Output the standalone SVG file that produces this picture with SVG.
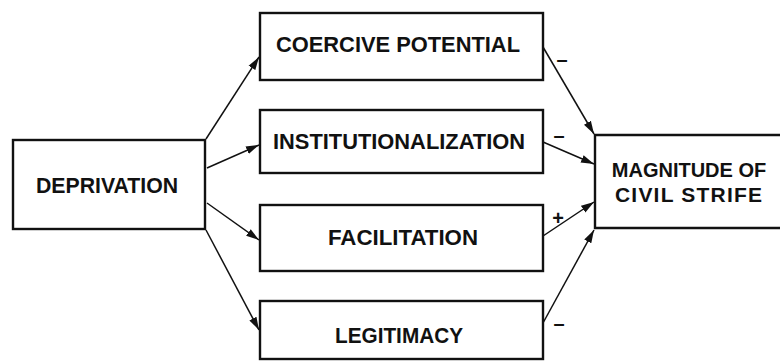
<svg xmlns="http://www.w3.org/2000/svg" width="780" height="361" viewBox="0 0 780 361">
<style>
.box{fill:#fff;stroke:#111;stroke-width:2.4}
.lbl{font-family:"Liberation Sans",Arial,sans-serif;font-weight:bold;font-size:22px;fill:#111;text-anchor:middle}
.sm{font-size:20px}
.edge{stroke:#111;stroke-width:1.5;fill:none;marker-end:url(#ah)}
.sign{font-family:"Liberation Sans",Arial,sans-serif;font-weight:bold;font-size:20px;fill:#111;text-anchor:middle}
</style>
<defs>
<marker id="ah" markerUnits="userSpaceOnUse" markerWidth="14" markerHeight="10" viewBox="0 0 14 10" refX="13" refY="5" orient="auto">
<path d="M0,1 L13,5 L0,9 Z" fill="#111"/>
</marker>
</defs>
<rect width="780" height="361" fill="#fff"/>
<g id="connectors">
<line class="edge" x1="206" y1="139" x2="259" y2="57"/>
<line class="edge" x1="207" y1="168" x2="259" y2="145"/>
<line class="edge" x1="207" y1="203" x2="259" y2="240"/>
<line class="edge" x1="206" y1="230" x2="259" y2="330"/>
<line class="edge" x1="543" y1="47" x2="594" y2="134"/>
<line class="edge" x1="543" y1="142" x2="594" y2="164"/>
<line class="edge" x1="543" y1="236" x2="594" y2="202"/>
<line class="edge" x1="543" y1="323" x2="594" y2="230"/>
<text class="sign" x="562" y="66">–</text>
<text class="sign" x="559" y="142">–</text>
<text class="sign" x="558" y="225">+</text>
<text class="sign" x="559" y="330">–</text>
</g>
<g id="deprivation">
<rect class="box" x="13" y="140" width="192" height="89"/>
<text class="lbl" x="107" y="193" textLength="142" lengthAdjust="spacingAndGlyphs">DEPRIVATION</text>
</g>
<g id="coercive">
<rect class="box" x="260" y="13" width="283" height="67"/>
<text class="lbl" x="398" y="52" textLength="244" lengthAdjust="spacingAndGlyphs">COERCIVE  POTENTIAL</text>
</g>
<g id="institutionalization">
<rect class="box" x="260" y="110" width="283" height="63"/>
<text class="lbl" x="399" y="149" textLength="252" lengthAdjust="spacingAndGlyphs">INSTITUTIONALIZATION</text>
</g>
<g id="facilitation">
<rect class="box" x="260" y="205" width="283" height="66"/>
<text class="lbl" x="403" y="245" textLength="150" lengthAdjust="spacingAndGlyphs">FACILITATION</text>
</g>
<g id="legitimacy">
<rect class="box" x="260" y="301" width="283" height="58"/>
<text class="lbl" x="399" y="343" textLength="128" lengthAdjust="spacingAndGlyphs">LEGITIMACY</text>
</g>
<g id="magnitude">
<path class="box" d="M780,135 H595 V228 H780"/>
<text class="lbl sm" x="689" y="177">MAGNITUDE OF</text>
<text class="lbl" x="615" y="202" style="text-anchor:start;font-size:21px" textLength="147" lengthAdjust="spacing">CIVIL STRIFE</text>
</g>
</svg>
